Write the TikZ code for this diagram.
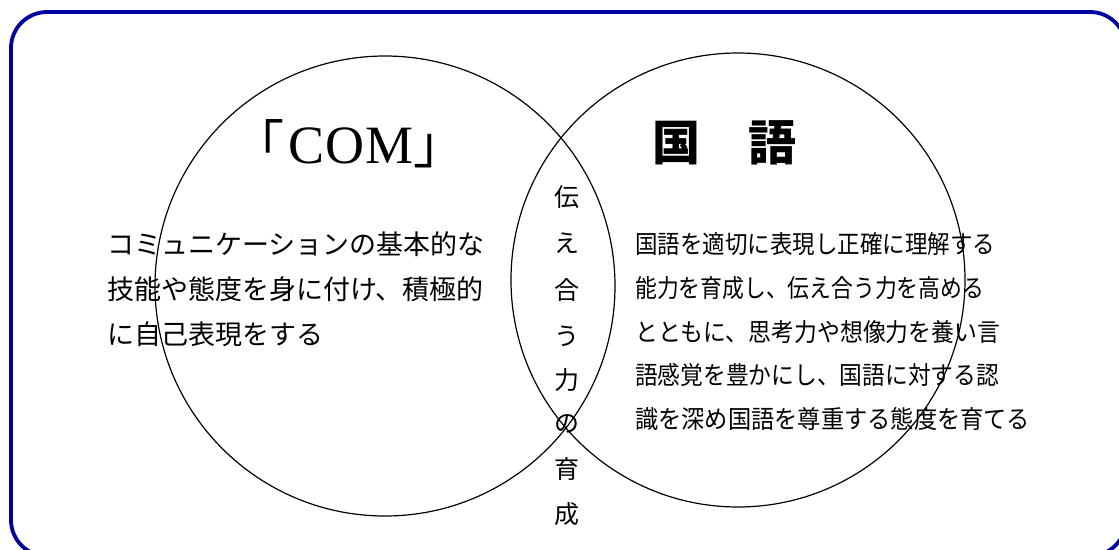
\documentclass[tikz,border=0pt]{standalone}
\usepackage{fontspec}
\usepackage{graphicx}
\newfontfamily\jp{Noto Sans CJK JP}
\newfontfamily\serifl{Liberation Serif}
\definecolor{framecol}{RGB}{0,0,160}
\tikzset{
  frame/.style={draw=framecol, line width=3.8pt, rounded corners=36pt},
  venn/.style={draw=black, line width=1.2pt},
  lefttxt/.style={anchor=west, inner sep=0pt, font=\jp\fontsize{27pt}{27pt}\selectfont},
  righttxt/.style={anchor=west, inner sep=0pt, font=\jp\fontsize{25pt}{25pt}\selectfont},
  midtxt/.style={inner sep=0pt, font=\jp\fontsize{25pt}{25pt}\selectfont},
}
\begin{document}
\begin{tikzpicture}[x=1pt,y=-1pt]
\useasboundingbox (0,0) rectangle (1119,549);
\begin{scope}
\clip (0,0) rectangle (1119,549);
\draw[frame] (11,12) rectangle (1126,556);
\end{scope}
\draw[venn] (385,286) circle (230);
\draw[venn] (738,280) circle (227);
\node[inner sep=0pt] (com) at (349,144) {{\jp\fontsize{52pt}{52pt}\selectfont 「}\hspace{4pt}{\serifl\fontsize{54pt}{54pt}\selectfont C\hspace{1pt}O\hspace{1pt}M}{\jp\fontsize{52pt}{52pt}\selectfont 」}};
\node[inner sep=0pt, font=\jp\bfseries\fontsize{48pt}{48pt}\selectfont] (kokugo) at (724,143) {国　語};
\node[lefttxt] (l1) at (107,244) {コミュニケーションの基本的な};
\node[lefttxt] (l2) at (107,289) {技能や態度を身に付け、積極的};
\node[lefttxt] (l3) at (107,334) {に自己表現をする};
\node[righttxt] (r1) at (635,244) {\resizebox{360pt}{\height}{国語を適切に表現し正確に理解する}};
\node[righttxt] (r2) at (635,288) {\resizebox{349pt}{\height}{能力を育成し、伝え合う力を高める}};
\node[righttxt] (r3) at (635,332) {\resizebox{365pt}{\height}{とともに、思考力や想像力を養い言}};
\node[righttxt] (r4) at (635,375) {\resizebox{364pt}{\height}{語感覚を豊かにし、国語に対する認}};
\node[righttxt] (r5) at (635,419) {\resizebox{395pt}{\height}{識を深め国語を尊重する態度を育てる}};
\node[midtxt] (m1) at (567,197) {伝};
\node[midtxt] (m2) at (567,243) {え};
\node[midtxt] (m3) at (567,290) {合};
\node[midtxt] (m4) at (567,336) {う};
\node[midtxt] (m5) at (567,380) {力};
\node[midtxt] (m6) at (567,424) {の};
\node[midtxt] (m7) at (567,469) {育};
\node[midtxt] (m8) at (567,514) {成};
\end{tikzpicture}
\end{document}
